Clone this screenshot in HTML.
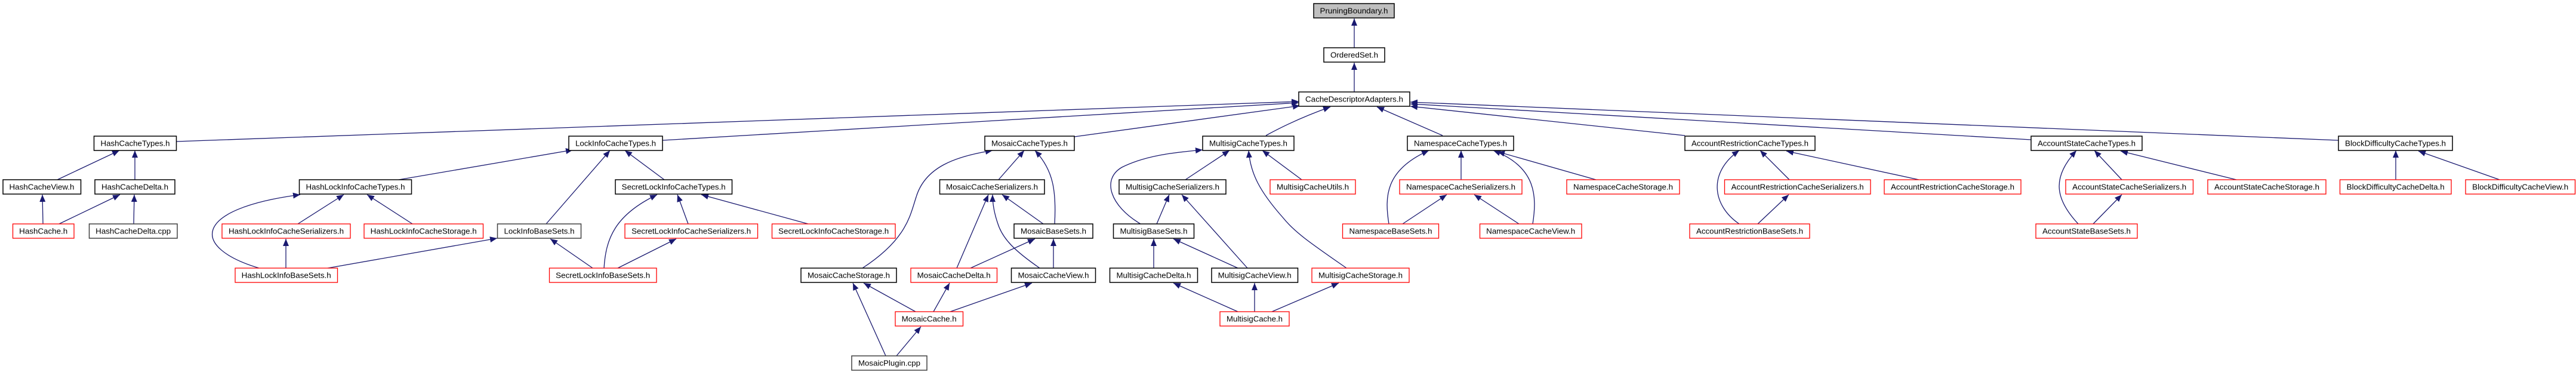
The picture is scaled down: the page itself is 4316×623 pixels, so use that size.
<!DOCTYPE html>
<html><head><meta charset="utf-8"><style>
html,body{margin:0;padding:0;background:#fff;}
svg{display:block;}
text{font-family:"Liberation Sans",Arial,sans-serif;font-size:13px;fill:#000;}
.e{fill:none;stroke:#191970;stroke-width:1.3;marker-end:url(#ah);}
.b{fill:#fff;stroke:#000;stroke-width:1.5;}
.r{fill:#fff;stroke:#ff0000;stroke-width:1.3;}
.g{fill:#bfbfbf;stroke:#000;stroke-width:1.5;}
</style></head><body>
<svg width="4316" height="623" viewBox="0 0 4316 623" xmlns="http://www.w3.org/2000/svg">
<defs><marker id="ah" markerUnits="userSpaceOnUse" markerWidth="12" markerHeight="10" refX="12" refY="5" orient="auto"><path d="M0,0 L12,5 L0,10 z" fill="#191970"/></marker></defs>
<g>
<path class="e" d="M2269,80 L2269,31"/>
<path class="e" d="M2269,154 L2269,105"/>
<path class="e" d="M295,237 L2176,170"/>
<path class="e" d="M1110,235 L2176,172"/>
<path class="e" d="M1800,229 L2178,177"/>
<path class="e" d="M2121,227 Q2170,200 2229,179"/>
<path class="e" d="M2417,227 L2307,179"/>
<path class="e" d="M2823,227 L2363,178"/>
<path class="e" d="M3403,234 L2363,174"/>
<path class="e" d="M3918,235 L2363,171"/>
<path class="e" d="M96,301 L200,252"/>
<path class="e" d="M226,301 L226,252"/>
<path class="e" d="M72,375 L71,326"/>
<path class="e" d="M99,375 L201,326"/>
<path class="e" d="M224,375 L225,326"/>
<path class="e" d="M668,301 L960,251"/>
<path class="e" d="M499,375 L576,326"/>
<path class="e" d="M691,375 L615,326"/>
<path class="e" d="M434,449 C320,415 320,350 503,326"/>
<path class="e" d="M479,449 L479,400"/>
<path class="e" d="M549,449 L833,399"/>
<path class="e" d="M915,375 L1022,252"/>
<path class="e" d="M1113,301 L1047,252"/>
<path class="e" d="M1153,375 L1135,326"/>
<path class="e" d="M1354,375 L1175,326"/>
<path class="e" d="M1012,449 C1015,400 1030,360 1101,326"/>
<path class="e" d="M993,449 L922,400"/>
<path class="e" d="M1035,449 L1133,400"/>
<path class="e" d="M1445,449 C1520,400 1525,360 1535,330 C1550,280 1600,262 1663,252"/>
<path class="e" d="M1673,301 L1716,252"/>
<path class="e" d="M1767,375 C1770,320 1765,285 1734,252"/>
<path class="e" d="M1748,375 L1679,326"/>
<path class="e" d="M1603,449 L1656,326"/>
<path class="e" d="M1742,449 C1700,420 1680,400 1672,375 C1665,355 1663,340 1663,326"/>
<path class="e" d="M1626,449 L1734,400"/>
<path class="e" d="M1765,449 L1765,400"/>
<path class="e" d="M1534,522 L1447,474"/>
<path class="e" d="M1564,522 L1591,474"/>
<path class="e" d="M1592,522 L1729,474"/>
<path class="e" d="M1484,596 L1429,474"/>
<path class="e" d="M1502,596 L1543,547"/>
<path class="e" d="M1986,301 L2060,252"/>
<path class="e" d="M1911,375 C1860,345 1845,300 1880,280 C1920,260 1970,255 2015,251"/>
<path class="e" d="M2181,301 L2115,252"/>
<path class="e" d="M2256,449 C2200,410 2170,390 2150,365 C2110,320 2095,290 2092,252"/>
<path class="e" d="M1938,375 L1959,326"/>
<path class="e" d="M2090,449 L1980,326"/>
<path class="e" d="M1933,449 L1933,400"/>
<path class="e" d="M2074,449 L1966,400"/>
<path class="e" d="M2074,522 L1966,474"/>
<path class="e" d="M2102,522 L2102,474"/>
<path class="e" d="M2131,522 L2243,474"/>
<path class="e" d="M2448,301 L2448,252"/>
<path class="e" d="M2327,375 C2320,330 2320,285 2394,252"/>
<path class="e" d="M2568,375 C2575,330 2575,280 2502,252"/>
<path class="e" d="M2674,301 L2509,254"/>
<path class="e" d="M2350,375 L2424,326"/>
<path class="e" d="M2545,375 L2470,326"/>
<path class="e" d="M2998,301 L2949,252"/>
<path class="e" d="M3215,301 L2993,253"/>
<path class="e" d="M2914,375 C2870,345 2860,290 2914,252"/>
<path class="e" d="M2945,375 L2997,326"/>
<path class="e" d="M3555,301 L3509,252"/>
<path class="e" d="M3747,301 L3553,253"/>
<path class="e" d="M3482,375 C3440,330 3440,295 3479,252"/>
<path class="e" d="M3507,375 L3555,326"/>
<path class="e" d="M4014,301 L4014,252"/>
<path class="e" d="M4188,301 L4052,253"/>
</g>
<g>
<rect class="g" x="2201" y="6" width="135" height="24"/><text x="2268.5" y="22.5" text-anchor="middle" textLength="114" lengthAdjust="spacingAndGlyphs">PruningBoundary.h</text>
<rect class="b" x="2218" y="80" width="102" height="24"/><text x="2269" y="96.5" text-anchor="middle" textLength="80" lengthAdjust="spacingAndGlyphs">OrderedSet.h</text>
<rect class="b" x="2176" y="154" width="186" height="24"/><text x="2269" y="170.5" text-anchor="middle" textLength="164" lengthAdjust="spacingAndGlyphs">CacheDescriptorAdapters.h</text>

<rect class="b" x="157.5" y="228" width="138" height="24"/><text x="226.5" y="244.5" text-anchor="middle" textLength="116" lengthAdjust="spacingAndGlyphs">HashCacheTypes.h</text>
<rect class="b" x="953" y="228" width="157" height="24"/><text x="1031.5" y="244.5" text-anchor="middle" textLength="135" lengthAdjust="spacingAndGlyphs">LockInfoCacheTypes.h</text>
<rect class="b" x="1650" y="228" width="150" height="24"/><text x="1725" y="244.5" text-anchor="middle" textLength="128" lengthAdjust="spacingAndGlyphs">MosaicCacheTypes.h</text>
<rect class="b" x="2015" y="228" width="153" height="24"/><text x="2091.5" y="244.5" text-anchor="middle" textLength="131" lengthAdjust="spacingAndGlyphs">MultisigCacheTypes.h</text>
<rect class="b" x="2358" y="228" width="178" height="24"/><text x="2447" y="244.5" text-anchor="middle" textLength="156" lengthAdjust="spacingAndGlyphs">NamespaceCacheTypes.h</text>
<rect class="b" x="2823" y="228" width="218" height="24"/><text x="2932" y="244.5" text-anchor="middle" textLength="196" lengthAdjust="spacingAndGlyphs">AccountRestrictionCacheTypes.h</text>
<rect class="b" x="3403" y="228" width="186" height="24"/><text x="3496" y="244.5" text-anchor="middle" textLength="164" lengthAdjust="spacingAndGlyphs">AccountStateCacheTypes.h</text>
<rect class="b" x="3918" y="228" width="191" height="24"/><text x="4013.5" y="244.5" text-anchor="middle" textLength="169" lengthAdjust="spacingAndGlyphs">BlockDifficultyCacheTypes.h</text>

<rect class="b" x="5" y="301" width="130.5" height="24"/><text x="70" y="317.5" text-anchor="middle" textLength="109" lengthAdjust="spacingAndGlyphs">HashCacheView.h</text>
<rect class="b" x="159" y="301" width="134" height="24"/><text x="226" y="317.5" text-anchor="middle" textLength="112" lengthAdjust="spacingAndGlyphs">HashCacheDelta.h</text>
<rect class="b" x="501.5" y="301" width="188" height="24"/><text x="595.5" y="317.5" text-anchor="middle" textLength="166" lengthAdjust="spacingAndGlyphs">HashLockInfoCacheTypes.h</text>
<rect class="b" x="1031" y="301" width="195.5" height="24"/><text x="1128.7" y="317.5" text-anchor="middle" textLength="174" lengthAdjust="spacingAndGlyphs">SecretLockInfoCacheTypes.h</text>
<rect class="b" x="1574.5" y="301" width="175.5" height="24"/><text x="1662" y="317.5" text-anchor="middle" textLength="154" lengthAdjust="spacingAndGlyphs">MosaicCacheSerializers.h</text>
<rect class="b" x="1875" y="301" width="179" height="24"/><text x="1964.5" y="317.5" text-anchor="middle" textLength="157" lengthAdjust="spacingAndGlyphs">MultisigCacheSerializers.h</text>
<rect class="r" x="2128" y="301" width="143" height="24"/><text x="2199.5" y="317.5" text-anchor="middle" textLength="121" lengthAdjust="spacingAndGlyphs">MultisigCacheUtils.h</text>
<rect class="r" x="2345" y="301" width="205" height="24"/><text x="2447.5" y="317.5" text-anchor="middle" textLength="183" lengthAdjust="spacingAndGlyphs">NamespaceCacheSerializers.h</text>
<rect class="r" x="2625" y="301" width="189" height="24"/><text x="2719.5" y="317.5" text-anchor="middle" textLength="167" lengthAdjust="spacingAndGlyphs">NamespaceCacheStorage.h</text>
<rect class="r" x="2889.5" y="301" width="244.5" height="24"/><text x="3011.7" y="317.5" text-anchor="middle" textLength="222" lengthAdjust="spacingAndGlyphs">AccountRestrictionCacheSerializers.h</text>
<rect class="r" x="3157" y="301" width="229" height="24"/><text x="3271.5" y="317.5" text-anchor="middle" textLength="207" lengthAdjust="spacingAndGlyphs">AccountRestrictionCacheStorage.h</text>
<rect class="r" x="3461" y="301" width="213.5" height="24"/><text x="3567.7" y="317.5" text-anchor="middle" textLength="191" lengthAdjust="spacingAndGlyphs">AccountStateCacheSerializers.h</text>
<rect class="r" x="3699" y="301" width="198" height="24"/><text x="3798" y="317.5" text-anchor="middle" textLength="176" lengthAdjust="spacingAndGlyphs">AccountStateCacheStorage.h</text>
<rect class="r" x="3920.5" y="301" width="186.5" height="24"/><text x="4013.7" y="317.5" text-anchor="middle" textLength="164" lengthAdjust="spacingAndGlyphs">BlockDifficultyCacheDelta.h</text>
<rect class="r" x="4131" y="301" width="183.5" height="24"/><text x="4222.7" y="317.5" text-anchor="middle" textLength="161" lengthAdjust="spacingAndGlyphs">BlockDifficultyCacheView.h</text>

<rect class="r" x="21.5" y="375" width="102.5" height="24"/><text x="72.7" y="391.5" text-anchor="middle" textLength="81" lengthAdjust="spacingAndGlyphs">HashCache.h</text>
<rect class="b" x="149.5" y="375" width="147.5" height="24" style="stroke:#404040"/><text x="223.2" y="391.5" text-anchor="middle" textLength="126" lengthAdjust="spacingAndGlyphs">HashCacheDelta.cpp</text>
<rect class="r" x="372" y="375" width="215" height="24"/><text x="479.5" y="391.5" text-anchor="middle" textLength="193" lengthAdjust="spacingAndGlyphs">HashLockInfoCacheSerializers.h</text>
<rect class="r" x="610" y="375" width="199.5" height="24"/><text x="709.7" y="391.5" text-anchor="middle" textLength="178" lengthAdjust="spacingAndGlyphs">HashLockInfoCacheStorage.h</text>
<rect class="b" x="833.5" y="375" width="140" height="24" style="stroke:#404040"/><text x="903.5" y="391.5" text-anchor="middle" textLength="118" lengthAdjust="spacingAndGlyphs">LockInfoBaseSets.h</text>
<rect class="r" x="1047" y="375" width="222.5" height="24"/><text x="1158.2" y="391.5" text-anchor="middle" textLength="200" lengthAdjust="spacingAndGlyphs">SecretLockInfoCacheSerializers.h</text>
<rect class="r" x="1293.5" y="375" width="206.5" height="24"/><text x="1396.7" y="391.5" text-anchor="middle" textLength="185" lengthAdjust="spacingAndGlyphs">SecretLockInfoCacheStorage.h</text>
<rect class="b" x="1699" y="375" width="132" height="24"/><text x="1765" y="391.5" text-anchor="middle" textLength="110" lengthAdjust="spacingAndGlyphs">MosaicBaseSets.h</text>
<rect class="b" x="1865.5" y="375" width="135" height="24"/><text x="1933" y="391.5" text-anchor="middle" textLength="113" lengthAdjust="spacingAndGlyphs">MultisigBaseSets.h</text>
<rect class="r" x="2249.5" y="375" width="161" height="24"/><text x="2330" y="391.5" text-anchor="middle" textLength="139" lengthAdjust="spacingAndGlyphs">NamespaceBaseSets.h</text>
<rect class="r" x="2479.5" y="375" width="170.5" height="24"/><text x="2564.7" y="391.5" text-anchor="middle" textLength="149" lengthAdjust="spacingAndGlyphs">NamespaceCacheView.h</text>
<rect class="r" x="2831" y="375" width="201" height="24"/><text x="2931.5" y="391.5" text-anchor="middle" textLength="179" lengthAdjust="spacingAndGlyphs">AccountRestrictionBaseSets.h</text>
<rect class="r" x="3411" y="375" width="170" height="24"/><text x="3496" y="391.5" text-anchor="middle" textLength="148" lengthAdjust="spacingAndGlyphs">AccountStateBaseSets.h</text>

<rect class="r" x="394" y="449" width="171.5" height="24"/><text x="479.7" y="465.5" text-anchor="middle" textLength="150" lengthAdjust="spacingAndGlyphs">HashLockInfoBaseSets.h</text>
<rect class="r" x="920.5" y="449" width="179.5" height="24"/><text x="1010.2" y="465.5" text-anchor="middle" textLength="158" lengthAdjust="spacingAndGlyphs">SecretLockInfoBaseSets.h</text>
<rect class="b" x="1342" y="449" width="160" height="24"/><text x="1422" y="465.5" text-anchor="middle" textLength="138" lengthAdjust="spacingAndGlyphs">MosaicCacheStorage.h</text>
<rect class="r" x="1526" y="449" width="144.5" height="24"/><text x="1598.2" y="465.5" text-anchor="middle" textLength="123" lengthAdjust="spacingAndGlyphs">MosaicCacheDelta.h</text>
<rect class="b" x="1694.5" y="449" width="141" height="24"/><text x="1765" y="465.5" text-anchor="middle" textLength="119" lengthAdjust="spacingAndGlyphs">MosaicCacheView.h</text>
<rect class="b" x="1859.5" y="449" width="147" height="24"/><text x="1933" y="465.5" text-anchor="middle" textLength="125" lengthAdjust="spacingAndGlyphs">MultisigCacheDelta.h</text>
<rect class="b" x="2030" y="449" width="144.5" height="24"/><text x="2102.2" y="465.5" text-anchor="middle" textLength="123" lengthAdjust="spacingAndGlyphs">MultisigCacheView.h</text>
<rect class="r" x="2198" y="449" width="163" height="24"/><text x="2279.5" y="465.5" text-anchor="middle" textLength="141" lengthAdjust="spacingAndGlyphs">MultisigCacheStorage.h</text>

<rect class="r" x="1500" y="522" width="113.5" height="24"/><text x="1556.7" y="538.5" text-anchor="middle" textLength="92" lengthAdjust="spacingAndGlyphs">MosaicCache.h</text>
<rect class="r" x="2044" y="522" width="116" height="24"/><text x="2102" y="538.5" text-anchor="middle" textLength="94" lengthAdjust="spacingAndGlyphs">MultisigCache.h</text>

<rect class="b" x="1427" y="596" width="126" height="24" style="stroke:#404040"/><text x="1490" y="612.5" text-anchor="middle" textLength="104" lengthAdjust="spacingAndGlyphs">MosaicPlugin.cpp</text>
</g>
</svg>
</body></html>
